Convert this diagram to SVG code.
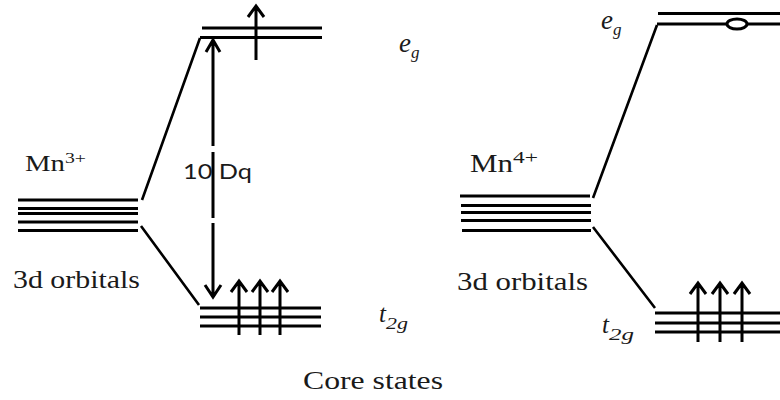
<svg xmlns="http://www.w3.org/2000/svg" width="780" height="400" viewBox="0 0 780 400">
<style>
.lv{stroke:#000;stroke-width:3;fill:none}
.ln{stroke:#000;stroke-width:2.6;fill:none}
.ar{stroke:#000;stroke-width:3;fill:none}
.tx{font-family:'Liberation Serif','Times New Roman',serif;fill:#1a1a1a}
.ti{font-family:'Liberation Serif','Times New Roman',serif;font-style:italic;fill:#1a1a1a}
.ts{font-family:Lato,'Open Sans',sans-serif;fill:#1a1a1a}
</style>
<rect width="780" height="400" fill="#fff"/>
<g id="mn3_3d">
<text class="tx" x="25" y="171" font-size="24" textLength="40" lengthAdjust="spacingAndGlyphs">Mn</text>
<text class="tx" x="65" y="163" font-size="15" textLength="21" lengthAdjust="spacingAndGlyphs">3+</text>
<text class="tx" x="13" y="288" font-size="26" textLength="127" lengthAdjust="spacingAndGlyphs">3d orbitals</text>
<path class="lv" d="M18 200H138M18 208.5H138M18 213.5H138M18 222H138M18 230.5H138"/>
</g>
<g id="mn3_eg">
<text class="ti" x="399" y="52" font-size="27">e</text>
<text class="ti" x="411" y="58" font-size="17">g</text>
<path class="lv" d="M202 28H322M200 37.5H322"/>
<path class="ar" d="M256 60V6M248 17L256 6L264 17"/>
</g>
<g id="mn3_t2g">
<text class="ti" x="379" y="322" font-size="25">t</text>
<text class="ti" x="386" y="329" font-size="17" textLength="22" lengthAdjust="spacingAndGlyphs">2g</text>
<path class="lv" d="M200 308H321M200 317H321M200 326H321"/>
<path class="ar" d="M239 335V281M231 292L239 281L247 292M260 335V281M252 292L260 281L268 292M280 335V281M272 292L280 281L288 292"/>
</g>
<g id="mn4_3d">
<text class="tx" x="470" y="172" font-size="25" textLength="43" lengthAdjust="spacingAndGlyphs">Mn</text>
<text class="tx" x="513" y="163" font-size="17" textLength="25" lengthAdjust="spacingAndGlyphs">4+</text>
<text class="tx" x="457" y="290" font-size="26" textLength="131" lengthAdjust="spacingAndGlyphs">3d orbitals</text>
<path class="lv" d="M460 196H590M461 205.5H591M461 212.5H591M461 220.5H591M462 230.5H591"/>
</g>
<g id="mn4_eg">
<text class="ti" x="601" y="29" font-size="27">e</text>
<text class="ti" x="613" y="35" font-size="17">g</text>
<path class="lv" d="M658 13.5H780M657 24H727M747 24H780"/>
<ellipse cx="737" cy="24" rx="10" ry="5" fill="#fff" stroke="#000" stroke-width="3"/>
</g>
<g id="mn4_t2g">
<text class="ti" x="602" y="333" font-size="25">t</text>
<text class="ti" x="609" y="340" font-size="17" textLength="25" lengthAdjust="spacingAndGlyphs">2g</text>
<path class="lv" d="M655 313H780M655 323H780M655 332H780"/>
<path class="ar" d="M698 342V283M690 294L698 283L706 294M720 342V283M712 294L720 283L728 294M742 342V283M734 294L742 283L750 294"/>
</g>
<g id="labels">
<text class="ts" x="183" y="179" font-size="21" textLength="69" lengthAdjust="spacingAndGlyphs">10 Dq</text>
<text class="tx" x="303" y="389" font-size="26" textLength="140" lengthAdjust="spacingAndGlyphs">Core states</text>
</g>
<g id="connectors">
<path class="ln" d="M142 200L200 38M141 226L199 305M593 198L657 25M593 227L655 308"/>
<path class="ar" d="M213 40V146M213 152V218M213 223V297M206 52L213 40L220 52M205 285L213 297L221 285"/>
</g>
</svg>
